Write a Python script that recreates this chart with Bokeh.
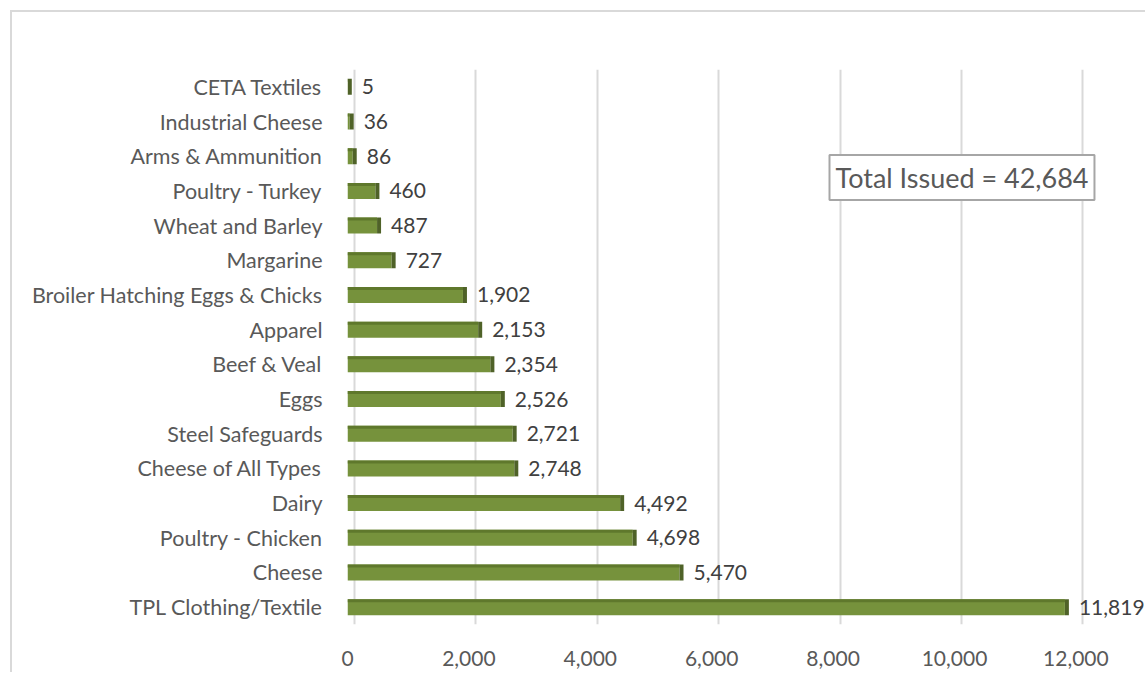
from bokeh.plotting import figure
from bokeh.models import (ColumnDataSource, FactorRange, FixedTicker, NumeralTickFormatter, Label)
from bokeh.transform import dodge
from bokeh.embed import file_html
from bokeh.resources import INLINE
from bokeh.core.properties import value

# ---- data (top to bottom as shown) ----
categories = ["CETA Textiles", "Industrial Cheese", "Arms & Ammunition", "Poultry - Turkey",
              "Wheat and Barley", "Margarine", "Broiler Hatching Eggs & Chicks", "Apparel",
              "Beef & Veal", "Eggs", "Steel Safeguards", "Cheese of All Types", "Dairy",
              "Poultry - Chicken", "Cheese", "TPL Clothing/Textile"]
issued = [5, 36, 86, 460, 487, 727, 1902, 2153, 2354, 2526, 2721, 2748, 4492, 4698, 5470, 11819]
x_ticks = [0, 2000, 4000, 6000, 8000, 10000, 12000]

FONT = "Lato"
PX_PER_UNIT = 0.0607
DEPTH = 4 / PX_PER_UNIT
WALL_SHIFT = 7 / PX_PER_UNIT   # back-wall gridlines sit a few px right of the bar fronts

cats_bottom_up = categories[::-1]
src = ColumnDataSource(dict(
    cat=categories,
    val=issued,
    side_right=[v + DEPTH for v in issued],
    lbl=[f"{v:,}" for v in issued],
))

p = figure(width=1135, height=662, output_backend="svg", toolbar_location=None,
           y_range=FactorRange(*cats_bottom_up, range_padding=0),
           x_range=(0, 13180),
           min_border_left=335, min_border_right=0, min_border_top=57, min_border_bottom=50)
p.styles = {"margin-left": "10px", "margin-top": "10px",
            "border-left": "2px solid #D9D9D9", "border-top": "2px solid #D9D9D9"}
p.outline_line_color = None
p.background_fill_color = "white"
p.border_fill_color = "white"

# bars: front face, top face strip, side face
p.hbar(y="cat", left=0, right="val", height=0.46, source=src,
       fill_color="#76923C", line_color=None)
p.hbar(y=dodge("cat", 0.187, range=p.y_range), left=0, right="val", height=0.086, source=src,
       fill_color="#5F782C", line_color=None)
p.hbar(y="cat", left="val", right="side_right", height=0.46, source=src,
       fill_color="#4F6228", line_color=None)

p.text(x="val", y="cat", text="lbl", source=src, x_offset=14,
       text_baseline="middle", text_align="left", text_font=value(FONT),
       text_font_size="21px", text_color="#404040")

# axes
p.xaxis.ticker = FixedTicker(ticks=x_ticks)
p.xaxis.formatter = NumeralTickFormatter(format="0,0")
for ax in (p.xaxis[0], p.yaxis[0]):
    ax.axis_line_color = None
    ax.major_tick_line_color = None
    ax.minor_tick_line_color = None
    ax.major_label_text_font = FONT
    ax.major_label_text_font_size = "21px"
    ax.major_label_text_color = "#595959"
p.yaxis.major_label_text_font_size = "21.5px"
p.xaxis.major_label_standoff = 20
p.yaxis.major_label_standoff = 19

p.xgrid.ticker = FixedTicker(ticks=[t + WALL_SHIFT for t in x_ticks])
p.xgrid.grid_line_color = "#D9D9D9"
p.xgrid.grid_line_width = 2
p.ygrid.grid_line_color = None

total = sum(issued)
p.add_layout(Label(x=7941, y=12.887, text=f"Total Issued = {total:,}",
                   text_font=FONT, text_font_size="27px", text_color="#595959",
                   text_baseline="middle", text_align="left",
                   border_line_color="#A6A6A6", border_line_width=2,
                   background_fill_color="white", padding=6))

open("out.html", "w").write(file_html(p, INLINE))
